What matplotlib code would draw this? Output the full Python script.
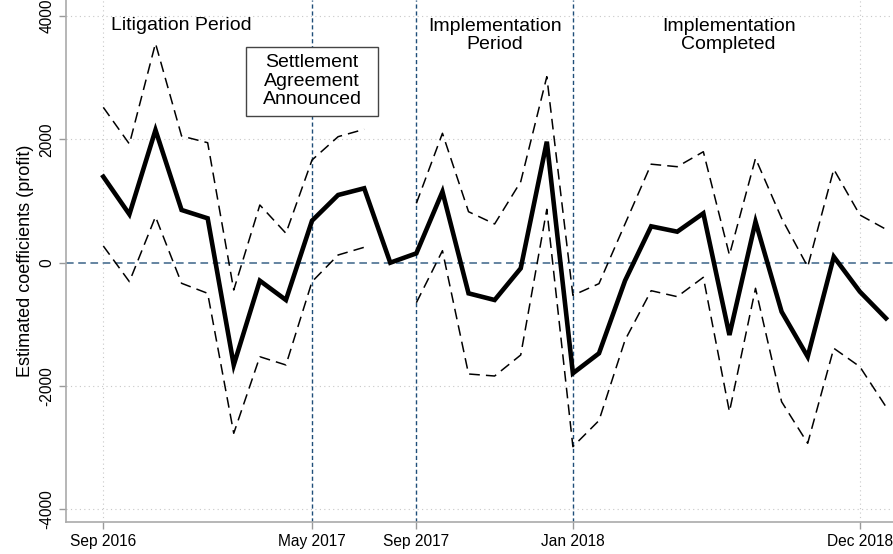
import numpy as np
import matplotlib
matplotlib.use("Agg")
import matplotlib.pyplot as plt
from matplotlib.patches import Rectangle

# ---- data ----
period = list(range(31))
estimate = [1395, 785, 2152, 855, 720, -1659, -292, -605, 681, 1098, 1207,
            0, 152, 1152, -497, -605, -91, 1963, -1794, -1470, -290,
            590, 503, 801, -1173, 665, -795, -1525, 97, -470, -902]
upper_ci = [2520, 1925, 3558, 2055, 1946, -443, 936, 477, 1666, 2044, 2164,
            np.nan, 963, 2099, 827, 628, 1314, 3017, -530, -340, 630,
            1598, 1557, 1800, 125, 1693, 720, -65, 1515, 774, 542]
lower_ci = [271, -308, 746, -334, -497, -2767, -1525, -1659, -308, 125, 250,
            np.nan, -649, 195, -1805, -1838, -1497, 866, -2984, -2560, -1254,
            -454, -551, -237, -2417, -415, -2255, -2929, -1388, -1687, -2336]
tick_pos = [0, 8, 12, 18, 29]
tick_labels = ["Sep 2016", "May 2017", "Sep 2017", "Jan 2018", "Dec 2018"]
event_pos = [8, 12, 18]
y_ticks = [-4000, -2000, 0, 2000, 4000]

plt.rcParams['font.family'] = ['Liberation Sans', 'DejaVu Sans']

fig = plt.figure(figsize=(8.93, 5.54), dpi=100)
ax = fig.add_axes([66 / 893, 1 - 521.7 / 554, 1 - 66 / 893, 521.7 / 554])

ax.set_xlim(-1.43, 30.27)
ax.set_ylim(-4201, 4261)

grid_c = '#c8c8c8'
for yv in y_ticks:
    if yv != 0:
        ax.axhline(yv, color=grid_c, lw=0.8, ls=(0, (1, 3)), zorder=0)
for xv in [0, 29]:
    ax.axvline(xv, color=grid_c, lw=0.8, ls=(0, (1, 3)), zorder=0)

blue = '#1f4e79'
ax.axhline(0, color='#3b6388', lw=1.1, ls=(0, (5, 3)), zorder=1)
for xv in event_pos:
    ax.axvline(xv, color=blue, lw=1.0, ls=(0, (3, 2)), zorder=1)

ax.plot(period, upper_ci, color='black', lw=1.1, ls=(0, (7, 4)), zorder=2)
ax.plot(period, lower_ci, color='black', lw=1.1, ls=(0, (7, 4)), zorder=2)
ax.plot(period, estimate, color='black', lw=3.3, zorder=3, solid_joinstyle='miter')

ax.set_xticks(tick_pos)
ax.set_xticklabels(tick_labels, fontsize=11.2)
ax.set_yticks(y_ticks)
ax.set_yticklabels([str(v) for v in y_ticks], fontsize=11.2, rotation=90, va='center')
ax.tick_params(axis='both', colors='#999999', length=5, width=1, labelcolor='black')

for s in ['top', 'right']:
    ax.spines[s].set_visible(False)
for s in ['left', 'bottom']:
    ax.spines[s].set_color('#aaaaaa')
    ax.spines[s].set_linewidth(1.2)

ax.set_ylabel("Estimated coefficients (profit)", fontsize=13, labelpad=4)

fs = 14
ax.text(3.0, 3855, "Litigation Period", ha='center', va='center', fontsize=fs)
ax.add_patch(Rectangle((5.47, 2380), 10.53 - 5.47, 3499 - 2380, fc='white',
                       ec='#444444', lw=1, zorder=4))
ax.text(8.0, 2947, "Settlement\nAgreement\nAnnounced", ha='center', va='center',
        fontsize=fs, linespacing=1.12, zorder=5)
ax.text(15.0, 3680, "Implementation\nPeriod", ha='center', va='center',
        fontsize=fs, linespacing=1.05)
ax.text(23.97, 3680, "Implementation\nCompleted", ha='center', va='center',
        fontsize=fs, linespacing=1.05)

fig.savefig("out.png", dpi=100)
